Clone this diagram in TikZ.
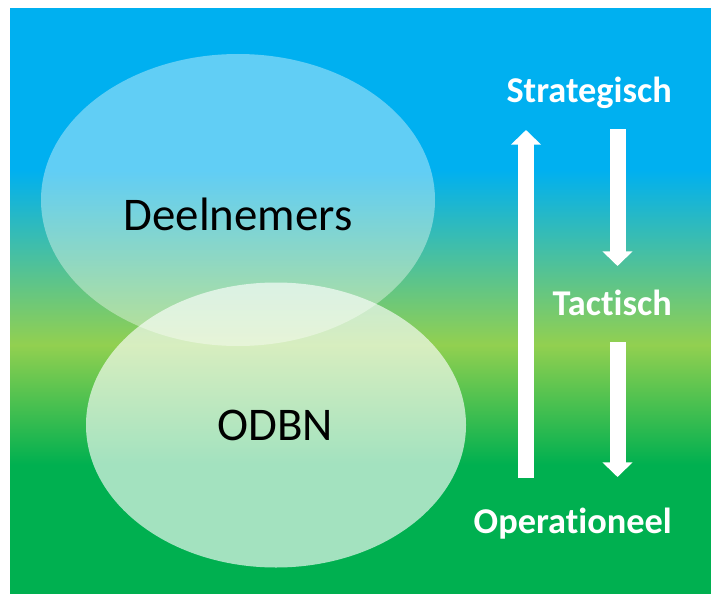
\documentclass[tikz,border=0pt]{standalone}
\usepackage{fontspec}
\setmainfont{Carlito}[Ligatures = {NoCommon, NoRare, NoDiscretionary}]
\usepackage{tikz}
\usetikzlibrary{shapes.geometric,arrows.meta}
\usepackage{xcolor}
\definecolor{lucht}{HTML}{00B0F0}
\definecolor{loof}{HTML}{92D050}
\definecolor{gras}{HTML}{00B050}
\pgfdeclareverticalshading{luchtgras}{100bp}{color(0bp)=(gras); color(36bp)=(gras); color(46.25bp)=(loof); color(61.2bp)=(lucht); color(100bp)=(lucht)}
\tikzset{
    bol/.style = {ellipse, fill = white, fill opacity = 0.38, inner sep = 0pt},
    naam/.style = {font = \fontsize{40}{44}\selectfont, text = black},
    niveau/.style = {font = \fontsize{31}{34}\selectfont\bfseries, text = white, anchor = base east, inner sep = 0pt},
    pijl/.style = {draw = white, line width = 0.48cm, -{Triangle[width = 0.88cm, length = 0.44cm]}}
}

\begin{document}
\begin{tikzpicture}[x = 0.03cm, y = -0.03cm]
        \useasboundingbox (0,0) rectangle (711,593);
        \shade[shading = luchtgras] (10,9) rectangle (711,593);
        \node[bol, minimum width = 394*0.03cm, minimum height = 292*0.03cm] (deel) at (238,200) {};
        \node[bol, fill opacity = 0.64, minimum width = 380*0.03cm, minimum height = 285*0.03cm] (odbn) at (276,425) {};
        \node[naam] (deeltxt) at (238,214) {Deelnemers};
        \node[naam] (odbntxt) at (275,425) {ODBN};
        \node[niveau] (strat) at (672,103) {Strategisch};
        \node[niveau] (tact) at (672,315) {Tact\kern0pt isch};
        \node[niveau] (oper) at (672,533) {Operat\kern0pt ioneel};
        \coordinate (opvan) at (526,478);
        \coordinate (opnaar) at (526,130);
        \coordinate (st1) at (617.5,129);
        \coordinate (st2) at (617.5,266);
        \coordinate (to1) at (617.5,342);
        \coordinate (to2) at (617.5,477);
        \draw[pijl] (opvan) -- (opnaar);
        \draw[pijl] (st1) -- (st2);
        \draw[pijl] (to1) -- (to2);
    \end{tikzpicture}
\end{document}
